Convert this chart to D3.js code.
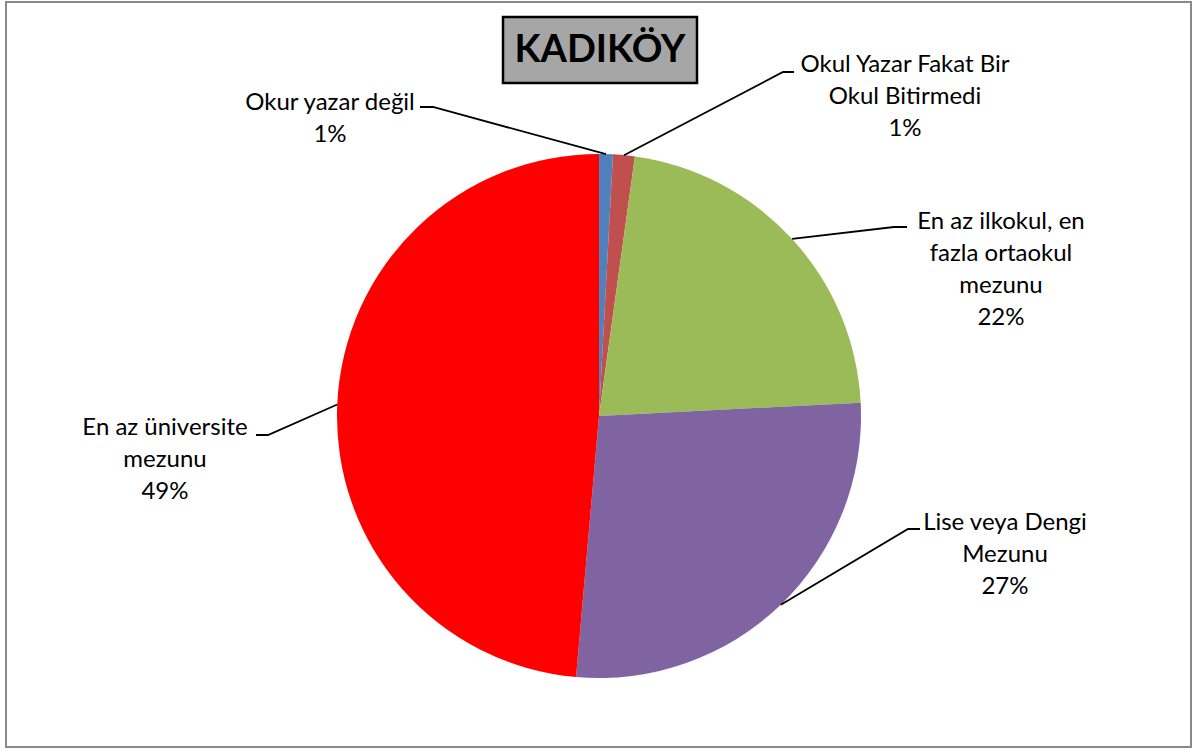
<!DOCTYPE html>
<html>
<head>
<meta charset="utf-8">
<script src="https://cdn.jsdelivr.net/npm/d3@7"></script>
<style>
  html, body { margin: 0; padding: 0; background: #fff; }
  svg { display: block; }
  text { font-family: Lato, "Open Sans", sans-serif; fill: #000; }
</style>
</head>
<body>
<svg id="chart"></svg>
<script>
const width = 1193;
const height = 749;

const title = 'KADIKÖY';

// slices, clockwise from 12 o'clock
const categories = [
  ['Okur yazar değil'],
  ['Okul Yazar Fakat Bir', 'Okul Bitirmedi'],
  ['En az ilkokul, en', 'fazla ortaokul', 'mezunu'],
  ['Lise veya Dengi', 'Mezunu'],
  ['En az üniversite', 'mezunu']
];
const values = [0.85, 1.34, 22.0, 27.2, 48.6];
const colors = ['#4f81bd', '#c0504d', '#9bbb59', '#8064a2', '#ff0000'];

// label placement: text centre x, first baseline y, elbow of the leader line
const labelLayout = [
  { x: 330, y: 110, elbow: [[420, 107], [433, 107]] },
  { x: 905, y: 72, elbow: [[794, 72], [783, 72]] },
  { x: 1001, y: 229, elbow: [[907, 227], [894, 227]] },
  { x: 1005, y: 530, elbow: [[920, 529], [908, 529]] },
  { x: 165, y: 435, elbow: [[256, 435], [268, 435]] }
];

const center = { x: 599, y: 416 };
const radius = 262;
const lineHeight = 32;

const svg = d3.select('#chart')
  .attr('width', width)
  .attr('height', height);

// outer frame
svg.append('rect')
  .attr('x', 6).attr('y', 2)
  .attr('width', width - 8).attr('height', height - 4)
  .attr('fill', 'none')
  .attr('stroke', '#898989')
  .attr('stroke-width', 2);

const total = d3.sum(values);
const pie = d3.pie().sort(null).value(d => d)(values);
const arc = d3.arc().innerRadius(0).outerRadius(radius);

const g = svg.append('g')
  .attr('transform', `translate(${center.x},${center.y})`);

g.selectAll('path.slice')
  .data(pie)
  .enter().append('path')
  .attr('class', 'slice')
  .attr('d', arc)
  .attr('fill', (d, i) => colors[i]);

// leader lines: from label elbow to the slice's outer edge at mid angle
const edgePoint = d => {
  const a = (d.startAngle + d.endAngle) / 2;
  return [center.x + radius * Math.sin(a), center.y - radius * Math.cos(a)];
};

svg.selectAll('polyline.leader')
  .data(pie)
  .enter().append('polyline')
  .attr('class', 'leader')
  .attr('points', (d, i) => [...labelLayout[i].elbow, edgePoint(d)].map(p => p.join(',')).join(' '))
  .attr('fill', 'none')
  .attr('stroke', '#000')
  .attr('stroke-width', 1.8);

const labels = svg.selectAll('text.label')
  .data(pie)
  .enter().append('text')
  .attr('class', 'label')
  .attr('text-anchor', 'middle')
  .attr('font-size', 24);

labels.each(function (d, i) {
  const lines = [...categories[i], Math.round(d.value / total * 100) + '%'];
  d3.select(this).selectAll('tspan')
    .data(lines)
    .enter().append('tspan')
    .attr('x', labelLayout[i].x)
    .attr('y', (t, j) => labelLayout[i].y + j * lineHeight)
    .text(t => t);
});

// title box
svg.append('rect')
  .attr('x', 503).attr('y', 17)
  .attr('width', 194).attr('height', 66)
  .attr('fill', '#a6a6a6')
  .attr('stroke', '#000')
  .attr('stroke-width', 2.5);

svg.append('text')
  .attr('x', 600).attr('y', 62)
  .attr('text-anchor', 'middle')
  .attr('font-size', 38)
  .attr('font-weight', 'bold')
  .text(title);
</script>
</body>
</html>
